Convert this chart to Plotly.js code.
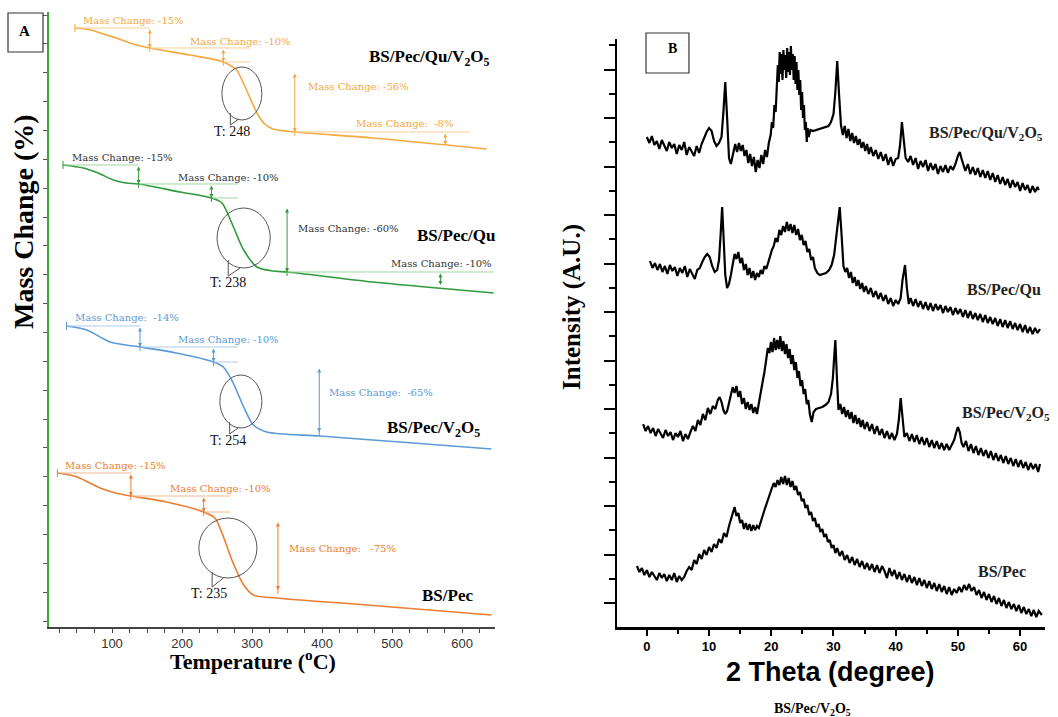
<!DOCTYPE html>
<html>
<head>
<meta charset="utf-8">
<script src="https://cdn.plot.ly/plotly-3.0.1.min.js"></script>
<style>html,body{margin:0;padding:0;background:#fff;}#chart{width:1058px;height:717px;}</style>
</head>
<body>
<div id="chart"></div>
<script>
// ---------- Panel A: TGA curves (temperature °C, stacked mass signal, arbitrary offset units) ----------
const tgaTempQuV = [47, 70, 92, 110, 130, 154, 211, 255, 268, 278, 292, 307, 318, 330, 361, 473, 635];
const tgaMassQuV = [612, 610, 605, 601, 596, 592, 585, 579, 575, 570, 550, 527, 516, 511, 508, 502, 491];
const tgaTempQu = [30, 59, 80, 102, 120, 138, 197, 242, 257, 271, 288, 307, 330, 350, 473, 645];
const tgaMassQu = [475, 472, 467, 460, 457, 456, 448, 442, 437, 417, 390, 373, 369, 368, 358, 347];
const tgaTempV = [35, 64, 97, 120, 140, 192, 245, 259, 273, 288, 302, 321, 397, 511, 642];
const tgaMassV = [314, 310, 298, 295, 293, 287, 278, 273, 257, 233, 215, 208, 204, 198, 191];
const tgaTempPec = [22, 50, 83, 105, 127, 178, 231, 247, 257, 273, 288, 302, 335, 464, 642];
const tgaMassPec = [167, 163, 152, 147, 144, 138, 128, 122, 107, 77, 55, 45, 42, 35, 25];
const tgaNames = ['BS/Pec/Qu/V<sub>2</sub>O<sub>5</sub>', 'BS/Pec/Qu', 'BS/Pec/V<sub>2</sub>O<sub>5</sub>', 'BS/Pec'];
const onsetLabels = ['T: 248', 'T: 238', 'T: 254', 'T: 235'];
const stepLabelsQuV = ['Mass Change: -15%', 'Mass Change: -10%', 'Mass Change: -56%', 'Mass Change:  -8%'];
const stepLabelsQu = ['Mass Change: -15%', 'Mass Change: -10%', 'Mass Change: -60%', 'Mass Change: -10%'];
const stepLabelsV = ['Mass Change:  -14%', 'Mass Change: -10%', 'Mass Change:  -65%'];
const stepLabelsPec = ['Mass Change: -15%', 'Mass Change: -10%', 'Mass Change:   -75%'];
const tempTickLabels = ['', '', '', '100', '', '', '', '200', '', '', '', '300', '', '', '', '400', '', '', '', '500', '', '', '', '600', ''];

// ---------- Panel B: XRD patterns [2θ, intensity (offset, a.u.)] ----------
const xrdQuV = [[0,503],[0.4,497],[0.8,504],[1.2,495],[1.6,499],[2,491],[2.4,500],[2.8,494],[3.2,489],[3.6,498],[4,492],[4.4,496],[4.8,486],[5.2,495],[5.6,490],[6,498],[6.4,485],[6.8,493],[7.2,488],[7.6,484],[8,494],[8.4,487],[8.8,496],[9.2,502],[9.6,508],[10,512],[10.4,509],[10.8,499],[11.2,494],[11.6,497],[12,503],[12.3,528],[12.6,558],[12.9,522],[13.2,482],[13.5,476],[13.8,485],[14.2,496],[14.5,488],[14.8,497],[15.1,489],[15.4,495],[15.7,484],[16,490],[16.3,477],[16.6,486],[16.9,474],[17.2,483],[17.5,468],[17.8,480],[18.1,472],[18.4,485],[18.7,476],[19,490],[19.3,483],[19.6,497],[19.9,505],[20.1,518],[20.3,512],[20.5,535],[20.7,528],[20.9,555],[21.05,575],[21.2,558],[21.35,588],[21.5,566],[21.65,586],[21.8,560],[21.95,590],[22.1,570],[22.25,585],[22.4,562],[22.55,592],[22.7,568],[22.85,588],[23,565],[23.15,594],[23.3,570],[23.45,586],[23.6,560],[23.75,584],[23.9,556],[24.05,578],[24.2,550],[24.35,570],[24.5,545],[24.65,560],[24.8,530],[24.95,548],[25.1,522],[25.25,535],[25.4,510],[25.55,518],[25.7,498],[25.85,512],[26,503],[26.3,510],[26.7,509],[27.2,510],[27.7,511],[28.2,512],[28.7,513],[29.2,514],[29.6,518],[30,526],[30.3,548],[30.6,579],[30.9,545],[31.2,515],[31.5,505],[31.8,514],[32.1,502],[32.4,511],[32.7,499],[33,507],[33.3,497],[33.6,504],[33.9,495],[34.2,501],[34.5,492],[34.8,498],[35.1,489],[35.4,496],[35.7,486],[36,493],[36.4,484],[36.8,490],[37.2,481],[37.6,488],[38,479],[38.4,486],[38.8,475],[39.2,483],[39.6,474],[40,481],[40.4,482],[40.7,495],[41,518],[41.3,500],[41.6,482],[42,478],[42.4,484],[42.8,475],[43.2,482],[43.6,471],[44,479],[44.4,473],[44.8,480],[45.2,469],[45.6,477],[46,470],[46.4,476],[46.8,466],[47.2,474],[47.6,468],[48,475],[48.4,467],[48.8,474],[49.2,470],[49.6,476],[50,484],[50.3,488],[50.6,481],[50.9,474],[51.2,469],[51.6,476],[52,466],[52.4,473],[52.8,465],[53.2,472],[53.6,463],[54,470],[54.4,462],[54.8,469],[55.2,460],[55.6,467],[56,458],[56.4,465],[56.8,456],[57.2,463],[57.6,455],[58,461],[58.4,452],[58.8,460],[59.2,453],[59.6,458],[60,449],[60.4,457],[60.8,450],[61.2,455],[61.6,447],[62,454],[62.4,448],[62.8,453],[63,450]];
const xrdQu = [[0.5,379],[0.9,372],[1.3,377],[1.7,370],[2.1,376],[2.5,368],[2.9,374],[3.3,366],[3.7,375],[4.1,369],[4.5,373],[4.9,364],[5.3,372],[5.7,367],[6.1,374],[6.5,363],[6.9,371],[7.3,366],[7.7,361],[8.1,370],[8.5,372],[8.9,378],[9.3,383],[9.7,386],[10.1,383],[10.5,374],[10.9,368],[11.3,370],[11.6,380],[11.85,405],[12.1,433],[12.35,400],[12.6,365],[12.9,352],[13.2,356],[13.5,365],[13.8,378],[14.1,386],[14.4,381],[14.7,388],[15,377],[15.3,382],[15.6,370],[15.9,376],[16.2,365],[16.5,372],[16.8,362],[17.1,369],[17.4,360],[17.7,367],[18,363],[18.3,370],[18.6,366],[18.9,374],[19.2,371],[19.5,378],[19.8,383],[20.1,390],[20.4,394],[20.7,402],[21,398],[21.3,410],[21.6,405],[21.9,414],[22.2,408],[22.5,418],[22.8,409],[23.1,416],[23.4,407],[23.7,415],[24,405],[24.3,411],[24.6,400],[24.9,405],[25.2,395],[25.5,399],[25.8,388],[26.1,391],[26.4,380],[26.7,383],[27,372],[27.4,367],[27.8,365],[28.3,366],[28.8,367],[29.3,370],[29.7,375],[30.1,385],[30.4,402],[30.7,420],[31,433],[31.3,405],[31.6,374],[31.9,368],[32.2,372],[32.5,362],[32.8,368],[33.1,357],[33.4,363],[33.7,354],[34,360],[34.3,351],[34.6,357],[34.9,348],[35.2,354],[35.6,346],[36,352],[36.4,343],[36.8,349],[37.2,341],[37.6,347],[38,339],[38.4,345],[38.8,336],[39.2,342],[39.6,334],[40,340],[40.4,336],[40.8,342],[41.1,360],[41.5,375],[41.8,352],[42.1,336],[42.4,342],[42.8,334],[43.2,341],[43.6,333],[44,339],[44.4,331],[44.8,338],[45.2,330],[45.6,337],[46,329],[46.4,336],[46.8,330],[47.2,335],[47.6,327],[48,334],[48.4,328],[48.8,333],[49.2,325],[49.6,332],[50,326],[50.4,331],[50.8,323],[51.2,330],[51.6,322],[52,329],[52.4,321],[52.8,327],[53.2,320],[53.6,326],[54,318],[54.4,325],[54.8,317],[55.2,323],[55.6,316],[56,322],[56.4,314],[56.8,321],[57.2,313],[57.6,320],[58,312],[58.4,319],[58.8,311],[59.2,317],[59.6,310],[60,316],[60.4,308],[60.8,315],[61.2,307],[61.6,313],[62,306],[62.4,312],[62.8,307],[63.2,311]];
const xrdV = [[-0.6,216],[-0.2,209],[0.2,214],[0.6,207],[1,212],[1.4,204],[1.8,211],[2.2,206],[2.6,202],[3,210],[3.4,204],[3.8,208],[4.2,200],[4.6,207],[5,203],[5.4,209],[5.8,199],[6.2,206],[6.6,201],[7,208],[7.4,214],[7.8,209],[8.2,220],[8.6,215],[9,226],[9.4,220],[9.8,232],[10.2,226],[10.6,234],[11,231],[11.4,240],[11.7,243],[12,238],[12.3,230],[12.6,226],[12.9,229],[13.2,238],[13.5,246],[13.8,253],[14.1,247],[14.4,254],[14.7,243],[15,249],[15.3,236],[15.6,242],[15.9,231],[16.2,238],[16.5,230],[16.8,236],[17.1,227],[17.4,233],[17.7,226],[18,238],[18.3,248],[18.6,258],[18.9,268],[19.2,280],[19.45,292],[19.7,287],[19.95,298],[20.2,288],[20.45,302],[20.7,290],[20.95,300],[21.2,291],[21.45,304],[21.7,289],[21.95,299],[22.2,286],[22.45,296],[22.7,282],[22.95,291],[23.2,276],[23.45,285],[23.7,270],[23.95,278],[24.2,262],[24.45,269],[24.7,254],[24.95,260],[25.2,246],[25.45,251],[25.7,236],[25.95,240],[26.2,226],[26.5,218],[26.8,228],[27.2,231],[27.7,232],[28.2,233],[28.7,235],[29.2,238],[29.6,246],[29.9,262],[30.1,282],[30.3,300],[30.55,262],[30.8,230],[31.1,236],[31.4,226],[31.7,233],[32,223],[32.3,230],[32.6,221],[32.9,228],[33.2,217],[33.5,225],[33.8,216],[34.1,222],[34.4,213],[34.7,220],[35,211],[35.4,218],[35.8,209],[36.2,216],[36.6,206],[37,214],[37.4,205],[37.8,211],[38.2,202],[38.6,209],[39,201],[39.4,207],[39.8,200],[40.2,206],[40.5,220],[40.8,242],[41.1,218],[41.4,203],[41.8,207],[42.2,199],[42.6,206],[43,198],[43.4,205],[43.8,196],[44.2,203],[44.6,195],[45,202],[45.4,193],[45.8,200],[46.2,192],[46.6,199],[47,191],[47.4,197],[47.8,190],[48.2,196],[48.6,190],[49,195],[49.4,200],[49.7,207],[50,213],[50.3,208],[50.6,197],[50.9,193],[51.3,199],[51.7,189],[52.1,196],[52.5,187],[52.9,194],[53.3,185],[53.7,192],[54.1,184],[54.5,190],[54.9,182],[55.3,189],[55.7,180],[56.1,187],[56.5,179],[56.9,185],[57.3,177],[57.7,184],[58.1,176],[58.5,182],[58.9,174],[59.3,181],[59.7,173],[60.1,180],[60.5,172],[60.9,178],[61.3,170],[61.7,177],[62.1,171],[62.5,176],[62.9,168],[63.2,176]];
const xrdPec = [[-1.6,74],[-1.2,68],[-0.8,72],[-0.4,65],[0,70],[0.4,63],[0.8,68],[1.2,64],[1.6,60],[2,67],[2.4,62],[2.8,66],[3.2,59],[3.6,65],[4,60],[4.4,67],[4.8,58],[5.2,64],[5.6,60],[6,63],[6.4,69],[6.8,73],[7.2,70],[7.6,80],[8,76],[8.4,86],[8.8,81],[9.2,90],[9.6,85],[10,93],[10.4,88],[10.8,96],[11.2,92],[11.6,101],[12,97],[12.4,107],[12.8,103],[13.2,114],[13.5,120],[13.8,128],[14.1,133],[14.4,124],[14.7,127],[15,117],[15.3,120],[15.6,111],[15.9,117],[16.2,110],[16.5,116],[16.8,109],[17.1,115],[17.4,110],[17.7,114],[18,112],[18.3,119],[18.6,124],[18.9,130],[19.2,136],[19.5,142],[19.8,147],[20.1,152],[20.4,157],[20.7,153],[21,160],[21.3,155],[21.6,163],[21.9,156],[22.2,164],[22.5,155],[22.8,162],[23.1,153],[23.4,159],[23.7,150],[24,154],[24.3,145],[24.6,148],[24.9,139],[25.2,141],[25.5,132],[25.8,135],[26.1,125],[26.4,128],[26.7,119],[27,122],[27.3,113],[27.6,116],[27.9,108],[28.2,111],[28.5,103],[28.8,106],[29.1,98],[29.4,100],[29.7,92],[30,95],[30.3,87],[30.6,92],[31,84],[31.4,89],[31.8,80],[32.2,85],[32.6,77],[33,83],[33.4,75],[33.8,81],[34.2,73],[34.6,79],[35,71],[35.4,77],[35.8,70],[36.2,76],[36.6,68],[37,75],[37.4,67],[37.8,74],[38.2,69],[38.6,62],[39,72],[39.4,64],[39.8,70],[40.2,61],[40.6,68],[41,60],[41.4,66],[41.8,58],[42.2,65],[42.6,57],[43,63],[43.4,55],[43.8,62],[44.2,54],[44.6,60],[45,52],[45.4,59],[45.8,51],[46.2,57],[46.6,49],[47,56],[47.4,48],[47.8,54],[48.2,46],[48.6,53],[49,45],[49.4,51],[49.8,47],[50.2,53],[50.6,48],[51,55],[51.4,50],[51.8,56],[52.2,49],[52.6,53],[53,45],[53.4,50],[53.8,42],[54.2,48],[54.6,40],[55,46],[55.4,38],[55.8,44],[56.2,36],[56.6,42],[57,34],[57.4,40],[57.8,32],[58.2,38],[58.6,31],[59,36],[59.4,29],[59.8,35],[60.2,27],[60.6,33],[61,26],[61.4,31],[61.8,24],[62.2,30],[62.6,23],[63,29],[63.5,25]];
const xrdNames = ['BS/Pec/Qu/V<sub>2</sub>O<sub>5</sub>', 'BS/Pec/Qu', 'BS/Pec/V<sub>2</sub>O<sub>5</sub>', 'BS/Pec'];

// ---------- styles & annotation geometry (layout only) ----------
const colA = ['#F4A940', '#2E9A3A', '#5B9BD5', '#ED7D31'];
const lightA = ['#F8CE95', '#9fd69f', '#b0cdec', '#F5B890'];
const txtA = ['#F4A940', '#333333', '#5B9BD5', '#ED7D31'];
const SERIF = 'Liberation Serif, Times New Roman, serif';
const SANS = 'Liberation Sans, Arial, sans-serif';

// step geometry per curve: hline [x0,x1,y], arrow [x,y0,y1], text [x,y]
const stepGeom = [
  [ {h:[47,154,612], a:[154,612,592], t:[130,619]},
    {h:[154,297,592], a:[259,592,578], t:[283,598], s:[259,297,578]},
    {a:[361,568,508], t:[452,553]},
    {h:[361,611,508], a:[576,508,495], t:[517,516]} ],
  [ {h:[30,138,475], a:[138,475,456], t:[115,482]},
    {h:[138,280,456], a:[242,456,442], t:[266,462], s:[242,280,442]},
    {a:[350,433,368], t:[438,411]},
    {h:[350,645,368], a:[569,368,355], t:[570,376]} ],
  [ {h:[35,140,314], a:[140,314,293], t:[121,322]},
    {h:[140,280,293], a:[245,293,278], t:[267,300], s:[245,280,278]},
    {a:[396,273,208], t:[484,248]} ],
  [ {h:[22,127,167], a:[127,167,144], t:[105,175]},
    {h:[127,269,144], a:[231,144,128], t:[255,152], s:[231,269,128]},
    {a:[337,119,50], t:[429,92]} ]
];
const bubbles = [ // ellipse [x0,x1,y0,y1], tail [[x,y],[x,y],[x,y]], onset label [x,y]
  {e:[257,314,520,573], tail:[[269,527],[269,515],[281,521]], lab:[272,508]},
  {e:[250,326,372,432], tail:[[266,380],[266,364],[283,372]], lab:[265,357]},
  {e:[254,314,212,265], tail:[[268,218],[268,206],[280,212]], lab:[266,200]},
  {e:[224,307,62,122], tail:[[243,68],[243,53],[259,62]], lab:[239,47]}
];
const nameAPos = [[553,582],[591,404],[559,211],[579,45]];
const nameBPos = [[54.5,507],[57.4,351],[57.7,227],[57.1,69]];

const tgaT = [tgaTempQuV, tgaTempQu, tgaTempV, tgaTempPec];
const tgaM = [tgaMassQuV, tgaMassQu, tgaMassV, tgaMassPec];
const stepLabels = [stepLabelsQuV, stepLabelsQu, stepLabelsV, stepLabelsPec];
const xrdAll = [xrdQuV, xrdQu, xrdV, xrdPec];

const traces = [];
tgaT.forEach((t, i) => {
  traces.push({x: t, y: tgaM[i], xaxis: 'x', yaxis: 'y', mode: 'lines', type: 'scatter',
    line: {color: colA[i], width: 1.6, shape: 'spline', smoothing: 0.8}, hoverinfo: 'skip'});
});
xrdAll.forEach((d) => {
  traces.push({x: d.map(p => p[0]), y: d.map(p => p[1]), xaxis: 'x2', yaxis: 'y2', mode: 'lines', type: 'scatter',
    line: {color: '#000', width: 2.2}, hoverinfo: 'skip'});
});

const shapes = [];
const annotations = [];
function tick(x, y, color) {
  shapes.push({type: 'line', xref: 'x', yref: 'y', x0: x, x1: x, y0: y - 4, y1: y + 4, line: {color: color, width: 1}});
}

stepGeom.forEach((steps, i) => {
  steps.forEach((st, k) => {
    if (st.h) shapes.push({type: 'line', xref: 'x', yref: 'y', x0: st.h[0], x1: st.h[1], y0: st.h[2], y1: st.h[2], line: {color: lightA[i], width: 1}});
    if (st.s) shapes.push({type: 'line', xref: 'x', yref: 'y', x0: st.s[0], x1: st.s[1], y0: st.s[2], y1: st.s[2], line: {color: lightA[i], width: 1}});
    if (k === 0) tick(st.h[0], st.h[2], colA[i]);
    if (k < 3) tick(st.a[0], st.a[2], colA[i]);
    annotations.push({xref: 'x', yref: 'y', axref: 'x', ayref: 'y', x: st.a[0], y: st.a[2], ax: st.a[0], ay: st.a[1],
      text: '', showarrow: true, arrowside: 'end+start', arrowhead: 2, startarrowhead: 2, arrowsize: 0.8, startarrowsize: 0.8,
      arrowwidth: 1, arrowcolor: colA[i], standoff: 0, startstandoff: 0});
    annotations.push({xref: 'x', yref: 'y', x: st.t[0], y: st.t[1], xanchor: 'center', yanchor: 'middle', text: stepLabels[i][k], showarrow: false,
      font: {family: 'DejaVu Serif, serif', size: 10, color: txtA[i]}});
  });
  const b = bubbles[i];
  shapes.push({type: 'circle', xref: 'x', yref: 'y', x0: b.e[0], x1: b.e[1], y0: b.e[2], y1: b.e[3], line: {color: '#555', width: 1}});
  shapes.push({type: 'path', xref: 'x', yref: 'y', path: `M ${b.tail[0][0]},${b.tail[0][1]} L ${b.tail[1][0]},${b.tail[1][1]} L ${b.tail[2][0]},${b.tail[2][1]}`, line: {color: '#555', width: 1}});
  annotations.push({xref: 'x', yref: 'y', x: b.lab[0], y: b.lab[1], xanchor: 'center', yanchor: 'middle', text: onsetLabels[i], showarrow: false,
    font: {family: SERIF, size: 14, color: '#111'}});
  annotations.push({xref: 'x', yref: 'y', x: nameAPos[i][0], y: nameAPos[i][1], xanchor: 'center', yanchor: 'middle', text: '<b>' + tgaNames[i] + '</b>', showarrow: false,
    font: {family: SERIF, size: 17, color: '#000'}});
  annotations.push({xref: 'x2', yref: 'y2', x: nameBPos[i][0], y: nameBPos[i][1], xanchor: 'center', yanchor: 'middle', text: '<b>' + xrdNames[i] + '</b>', showarrow: false,
    font: {family: SERIF, size: 16, color: '#222'}});
});

function paperText(x, y, text, font, angle) {
  annotations.push({xref: 'paper', yref: 'paper', x: x, y: y, xanchor: 'center', yanchor: 'middle',
    text: text, textangle: angle || 0, showarrow: false, font: font});
}
paperText(0.0227, 0.6904, '<b>Mass Change (%)</b>', {family: SERIF, size: 28, color: '#000'}, -90);
paperText(0.2391, 0.0795, '<b>Temperature (<sup>o</sup>C)</b>', {family: SERIF, size: 22, color: '#000'});
paperText(0.5406, 0.5718, '<b>Intensity (A.U.)</b>', {family: SERIF, size: 25, color: '#000'}, -90);
paperText(0.7854, 0.0628, '<b>2 Theta (degree)</b>', {family: SANS, size: 27, color: '#000'});
paperText(0.7675, 0.0098, '<b>BS/Pec/V<sub>2</sub>O<sub>5</sub></b>', {family: SERIF, size: 14, color: '#000'});
paperText(0.0236, 0.9568, '<b>A</b>', {family: SERIF, size: 15, color: '#000'});
paperText(0.6361, 0.9317, '<b>B</b>', {family: SERIF, size: 14, color: '#000'});
shapes.push({type: 'rect', xref: 'paper', yref: 'paper', x0: 0.00756, x1: 0.04064, y0: 0.9275, y1: 0.9819, line: {color: '#333', width: 1.2}});
shapes.push({type: 'rect', xref: 'paper', yref: 'paper', x0: 0.6106, x1: 0.6512, y0: 0.8982, y1: 0.9540, line: {color: '#333', width: 1.2}});

const tempTickVals = tempTickLabels.map((_, k) => 25 * (k + 1));

const layout = {
  width: 1058, height: 717, margin: {l: 0, r: 0, t: 0, b: 0}, showlegend: false,
  paper_bgcolor: '#fff', plot_bgcolor: '#fff',
  xaxis: {domain: [0.0463, 0.4679], range: [10, 647], anchor: 'y', showline: true, linecolor: '#444', linewidth: 1.5,
    ticks: 'outside', ticklen: 4, tickcolor: '#444', tickvals: tempTickVals, ticktext: tempTickLabels,
    tickfont: {family: SANS, size: 13, color: '#333'}, showgrid: false, zeroline: false},
  yaxis: {domain: [0.1255, 0.9833], range: [13, 628], anchor: 'x', showline: true, linecolor: '#3aa63a', linewidth: 2,
    ticks: 'outside', ticklen: 4, tickcolor: '#555', tick0: 19, dtick: 28.85, showticklabels: false, showgrid: false, zeroline: false},
  xaxis2: {domain: [0.5832, 0.9877], range: [-4.8, 64], anchor: 'y2', showline: true, linecolor: '#000', linewidth: 2.5,
    ticks: 'outside', ticklen: 6, tickwidth: 2, tickcolor: '#000', tick0: 0, dtick: 10,
    minor: {tick0: 0, dtick: 5, ticks: 'outside', ticklen: 4, tickwidth: 2, tickcolor: '#000'},
    tickfont: {family: SANS, size: 13, color: '#000', weight: 'bold'}, showgrid: false, zeroline: false},
  yaxis2: {domain: [0.1255, 0.9456], range: [13, 601], anchor: 'x2', showline: true, linecolor: '#000', linewidth: 2.5,
    ticks: 'outside', ticklen: 11, tickwidth: 2, tickcolor: '#000', tick0: 37, dtick: 48.5,
    minor: {tick0: 12.75, dtick: 24.25, ticks: 'outside', ticklen: 6, tickwidth: 2, tickcolor: '#000'},
    showticklabels: false, showgrid: false, zeroline: false},
  shapes: shapes,
  annotations: annotations
};

Plotly.newPlot('chart', traces, layout, {staticPlot: true, displayModeBar: false});
</script>
</body>
</html>
